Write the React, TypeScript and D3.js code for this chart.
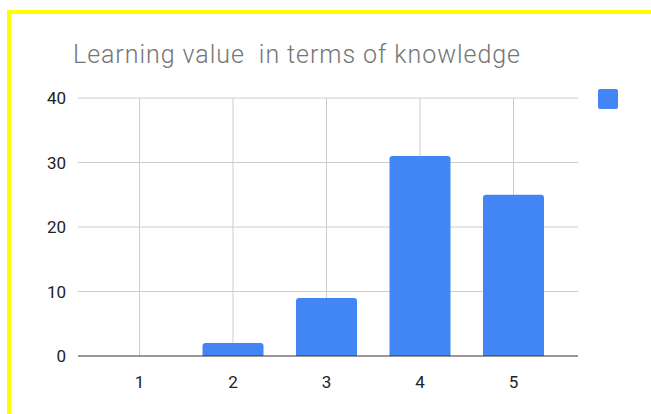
import * as d3 from 'd3';
import { useRef, useEffect } from 'react';

const categories = ['1', '2', '3', '4', '5'];
const values = [0, 2, 9, 31, 25];
const yTicks = [0, 10, 20, 30, 40];
const title = 'Learning value  in terms of knowledge';

const W = 651;
const H = 414;

const App = () => {
  const ref = useRef<SVGSVGElement>(null);

  useEffect(() => {
    document.body.style.margin = '0';
    const svg = d3.select(ref.current);
    svg.selectAll('*').remove();

    // white page + yellow frame that runs off the right/bottom edges
    svg.append('rect').attr('width', W).attr('height', H).attr('fill', '#fff');
    svg
      .append('rect')
      .attr('x', 9)
      .attr('y', 12)
      .attr('width', W + 20)
      .attr('height', H + 20)
      .attr('fill', 'none')
      .attr('stroke', '#ffff00')
      .attr('stroke-width', 4);

    const plotLeft = 78;
    const plotRight = 578;

    // category centres and value scale
    const x = d3.scalePoint().domain(categories).range([139.5, 513.5]);
    const y = d3.scaleLinear().domain([0, 40]).range([356, 98]);
    const barW = 61;

    // title (spaced out a bit to match the original's width)
    svg
      .append('text')
      .attr('x', 73)
      .attr('y', 63)
      .attr('fill', '#757575')
      .attr('textLength', 447)
      .attr('lengthAdjust', 'spacing')
      .style('font-family', 'Roboto, sans-serif')
      .style('font-weight', 300)
      .style('font-size', '25px')
      .style('white-space', 'pre')
      .text(title);

    // horizontal grid
    svg
      .append('g')
      .selectAll('line')
      .data(yTicks.filter((t) => t !== 0))
      .join('line')
      .attr('x1', plotLeft)
      .attr('x2', plotRight)
      .attr('y1', (d) => y(d))
      .attr('y2', (d) => y(d))
      .attr('stroke', '#cccccc')
      .attr('stroke-width', 1);

    // vertical grid
    svg
      .append('g')
      .selectAll('line')
      .data(categories)
      .join('line')
      .attr('x1', (d) => x(d)!)
      .attr('x2', (d) => x(d)!)
      .attr('y1', y(40))
      .attr('y2', y(0))
      .attr('stroke', '#cccccc')
      .attr('stroke-width', 1);

    // bars
    svg
      .append('g')
      .selectAll('path')
      .data(categories.map((c, i) => ({ c, v: values[i] })).filter((d) => d.v > 0))
      .join('path')
      .attr('fill', '#4285f4')
      .attr('d', (d) => {
        const x0 = x(d.c)! - barW / 2;
        const top = y(d.v);
        const bottom = y(0);
        const r = 3;
        return `M${x0},${bottom} L${x0},${top + r} Q${x0},${top} ${x0 + r},${top} L${x0 + barW - r},${top} Q${x0 + barW},${top} ${x0 + barW},${top + r} L${x0 + barW},${bottom} Z`;
      });

    // baseline
    svg
      .append('line')
      .attr('x1', plotLeft)
      .attr('x2', plotRight)
      .attr('y1', y(0))
      .attr('y2', y(0))
      .attr('stroke', '#333333')
      .attr('stroke-width', 1);

    // y labels
    svg
      .append('g')
      .selectAll('text')
      .data(yTicks)
      .join('text')
      .attr('x', 66)
      .attr('y', (d) => y(d) + 6)
      .attr('text-anchor', 'end')
      .attr('fill', '#222')
      .style('font-family', 'Roboto, sans-serif')
      .style('font-size', '17px')
      .text((d) => d);

    // x labels
    svg
      .append('g')
      .selectAll('text')
      .data(categories)
      .join('text')
      .attr('x', (d) => x(d)!)
      .attr('y', 388)
      .attr('text-anchor', 'middle')
      .attr('fill', '#222')
      .style('font-family', 'Roboto, sans-serif')
      .style('font-size', '17px')
      .text((d) => d);

    // legend swatch
    svg
      .append('rect')
      .attr('x', 598)
      .attr('y', 89)
      .attr('width', 20)
      .attr('height', 20)
      .attr('rx', 2)
      .attr('fill', '#4285f4');
  }, []);

  return (
    <div style={{ position: 'absolute', left: 0, top: 0 }}>
      <svg ref={ref} width={W} height={H} style={{ display: 'block' }} />
    </div>
  );
};

export default App;
